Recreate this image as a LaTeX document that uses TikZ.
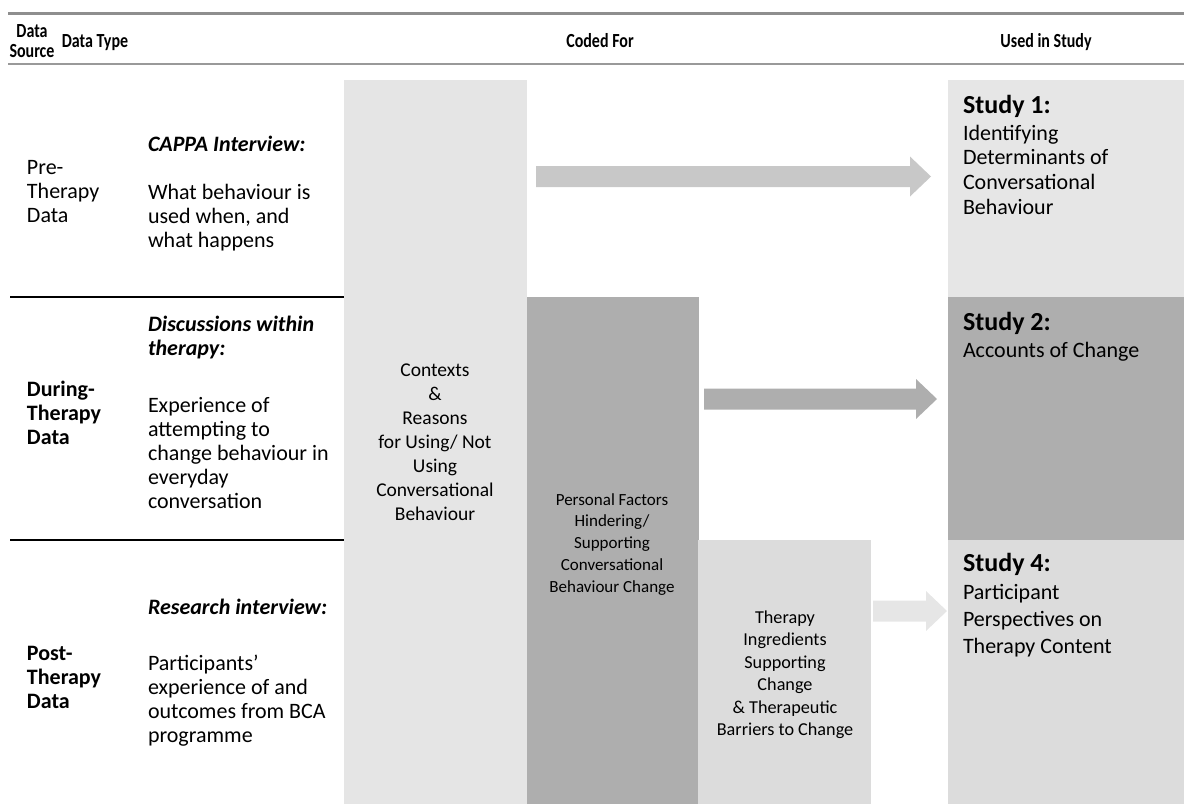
\documentclass[tikz,border=0pt]{standalone}
\usepackage{graphicx}
\usepackage{fontspec}
\setmainfont{Carlito}
\usetikzlibrary{calc}

\definecolor{colA}{HTML}{E5E5E5}
\definecolor{colB}{HTML}{AEAEAE}
\definecolor{colC}{HTML}{DCDCDC}
\definecolor{colS}{HTML}{E6E6E6}
\definecolor{arrA}{HTML}{C8C8C8}
\definecolor{arrB}{HTML}{AEAEAE}
\definecolor{arrC}{HTML}{E6E6E6}
\definecolor{rulegray}{HTML}{8E8E8E}

% multi-line text block whose baseline is that of its first line
\newcommand\txtblock[2]{\begin{tabular}[t]{@{}#1@{}}#2\end{tabular}}
% narrow bold heading text
\newcommand\hdrtext[1]{\scalebox{0.8}[1]{#1}}

% block arrow between two named coordinates
\newcommand\blockarrow[3]{%
  \fill[#3] let \p1=(#1), \p2=(#2) in
    (\x1,\y1-10.5pt) -- (\x2-21pt,\y1-10.5pt) -- (\x2-21pt,\y1-20pt) -- (\x2,\y1)
    -- (\x2-21pt,\y1+20pt) -- (\x2-21pt,\y1+10.5pt) -- (\x1,\y1+10.5pt) -- cycle;}

\begin{document}
\begin{tikzpicture}[x=1pt,y=-1pt,
  every node/.style={inner sep=0pt,outer sep=0pt},
  panel/.style={anchor=north west,draw=none},
  hdr/.style={font=\fontsize{20}{20}\selectfont\bfseries},
  src/.style={font=\fontsize{22}{24}\selectfont\bfseries,anchor=base west},
  body/.style={font=\fontsize{22}{24}\selectfont,anchor=base west},
  lead/.style={font=\fontsize{22}{24}\selectfont\bfseries\itshape,anchor=base west},
  study/.style={font=\fontsize{26}{28}\selectfont\bfseries,anchor=base west},
  code/.style={anchor=base}
]
\useasboundingbox (0,0) rectangle (1184,804);

% rules of the table
\draw[rulegray,line width=3pt] (8,13) -- (1184,13);
\draw[rulegray!90,line width=1.6pt] (8,64) -- (1184,64);
\draw[black,line width=1.8pt] (10,297) -- (344,297);
\draw[black,line width=1.8pt] (10,540) -- (344,540);

% column headings
\node[hdr,anchor=base] (hsrc) at (32,37) {\hdrtext{\txtblock{c}{Data\\Source}}};
\node[hdr,anchor=base] (htype) at (95,47) {\hdrtext{Data Type}};
\node[hdr,anchor=base] (hcode) at (600,47) {\hdrtext{Coded For}};
\node[hdr,anchor=base] (huse) at (1046,47) {\hdrtext{Used in Study}};

% data sources
\node[body] (pre) at (27,174) {\txtblock{l}{Pre-\\Therapy\\Data}};
\node[src] (during) at (27,396) {\txtblock{l}{During-\\Therapy\\Data}};
\node[src] (post) at (27,660) {\txtblock{l}{Post-\\Therapy\\Data}};

% data types
\node[lead] (cappa) at (148,151) {CAPPA Interview:};
\node[body] (cappatxt) at (148,199) {\txtblock{l}{What behaviour is\\used when, and\\what happens}};
\node[lead] (disc) at (148,331) {\txtblock{l}{Discussions within\\therapy:}};
\node[body] (disctxt) at (148,412) {\txtblock{l}{Experience of\\attempting to\\change behaviour in\\everyday\\conversation}};
\node[lead] (resi) at (148,614) {Research interview:};
\node[body] (resitxt) at (148,670) {\txtblock{l}{Participants’\\experience of and\\outcomes from BCA\\programme}};

% coding panels
\node[panel,fill=colA,minimum width=183,minimum height=724] (ctx) at (344,80) {};
\node[panel,fill=colB,minimum width=172,minimum height=507] (pers) at (527,297) {};
\node[panel,fill=colC,minimum width=173,minimum height=264] (ther) at (698,540) {};

\node[code,font=\fontsize{19.5}{24}\selectfont] (ctxtxt) at (435,376)
  {\txtblock{c}{Contexts\\\&\\Reasons\\for Using/ Not\\Using\\Conversational\\Behaviour}};
\node[code,font=\fontsize{17}{21.8}\selectfont] (perstxt) at (612,505)
  {\txtblock{c}{Personal Factors\\Hindering/\\Supporting\\Conversational\\Behaviour Change}};
\node[code,font=\fontsize{18.2}{22.4}\selectfont] (thertxt) at (785,623.5)
  {\txtblock{c}{Therapy\\Ingredients\\Supporting\\Change\\\& Therapeutic\\Barriers to Change}};

% study panels
\node[panel,fill=colS,minimum width=236,minimum height=217] (s1) at (948,80) {};
\node[panel,fill=colB,minimum width=236,minimum height=243] (s2) at (948,297) {};
\node[panel,fill=colC,minimum width=236,minimum height=264] (s4) at (948,540) {};

\node[study] (s1h) at (963,113) {Study 1:};
\node[body,font=\fontsize{22}{24.7}\selectfont] (s1t) at (963,140)
  {\txtblock{l}{Identifying\\Determinants of\\Conversational\\Behaviour}};
\node[study] (s2h) at (963,330) {Study 2:};
\node[body] (s2t) at (963,357) {Accounts of Change};
\node[study] (s4h) at (963,571) {Study 4:};
\node[body,font=\fontsize{22}{27}\selectfont] (s4t) at (963,599)
  {\txtblock{l}{Participant\\Perspectives on\\Therapy Content}};

% arrows into the studies
\coordinate (a1s) at (536,176.5);
\coordinate (a1e) at (931,176.5);
\coordinate (a2s) at (704,399);
\coordinate (a2e) at (937,399);
\coordinate (a3s) at (873,611);
\coordinate (a3e) at (947,611);
\blockarrow{a1s}{a1e}{arrA}
\blockarrow{a2s}{a2e}{arrB}
\blockarrow{a3s}{a3e}{arrC}
\end{tikzpicture}
\end{document}
